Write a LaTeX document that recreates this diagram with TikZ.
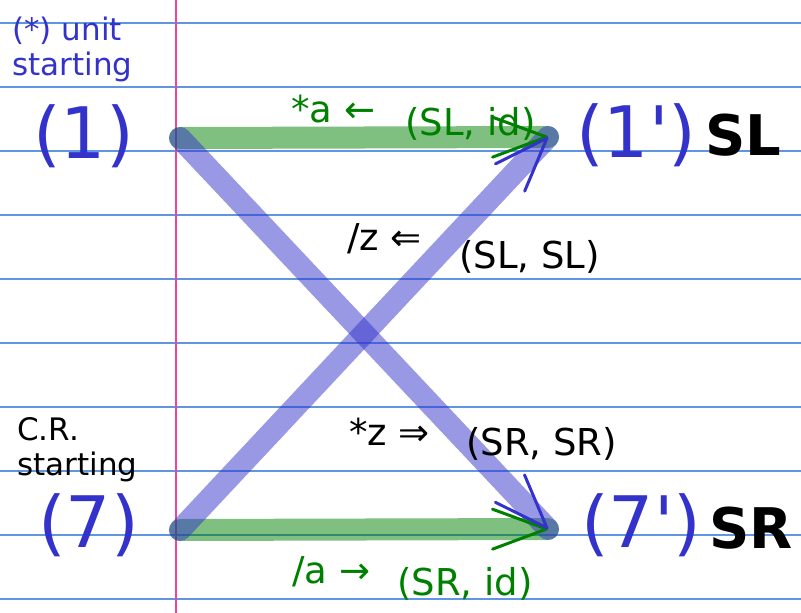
\documentclass[tikz,border=0pt]{standalone}
\usepackage{fontspec}
\setmainfont{DejaVu Sans}[Ligatures=TeXOff]
\usetikzlibrary{arrows.meta,calc}
\definecolor{ruleblue}{RGB}{95,150,225}
\definecolor{marginpink}{RGB}{235,70,160}
\definecolor{dgreen}{RGB}{0,128,0}
\definecolor{nblue}{RGB}{51,51,204}
\begin{document}
\begin{tikzpicture}[x=1pt,y=-1pt,
  bignum/.style={text=nblue, font=\fontsize{71}{76}\selectfont, anchor=base west, inner sep=0pt},
  sidelab/.style={font=\fontsize{56}{60}\selectfont\bfseries, anchor=base west, inner sep=0pt},
  note/.style={font=\fontsize{31}{35}\selectfont, anchor=base west, inner sep=0pt},
  oplab/.style={font=\fontsize{37}{40}\selectfont, anchor=base west, inner sep=0pt},
  pairlab/.style={font=\fontsize{37}{40}\selectfont, anchor=base west, inner sep=0pt},
  band/.style={line width=22pt, line cap=round, draw opacity=0.5},
  gband/.style={band, draw=dgreen},
  bband/.style={band, draw=nblue},
  barb/.style={line width=3pt, -{Straight Barb[length=54pt,width=40pt,round]}},
  rule/.style={draw=ruleblue, line width=1.3pt}]
\useasboundingbox (0,0) rectangle (801,613);
\fill[white] (0,0) rectangle (801,613);
% ruled paper
\foreach \yy in {23,87,151,215,279,343,407,471,535,599}
  \draw[rule] (0,\yy) -- (801,\yy);
\draw[draw=marginpink, line width=1.8pt] (176,0) -- (176,613);
% end points
\coordinate (p1) at (180,138);
\coordinate (p1p) at (548,137);
\coordinate (p7) at (180,530);
\coordinate (p7p) at (548,529);
% bands
\draw[gband] (p1) -- (p1p);
\draw[gband] (p7) -- (p7p);
\draw[bband] (p1) -- (p7p);
\draw[bband] (p7) -- (p1p);
% arrowheads
\draw[barb, draw=dgreen] ($(p1)!0.99!(p1p)$) -- (p1p);
\draw[barb, draw=nblue] ($(p7)!0.99!(p1p)$) -- (p1p);
\draw[barb, draw=dgreen] ($(p7)!0.99!(p7p)$) -- (p7p);
\draw[barb, draw=nblue] ($(p1)!0.99!(p7p)$) -- (p7p);
% state nodes
\node[bignum] (n1) at (33,158) {(1)};
\node[bignum] (n1p) at (576,157) {(1')};
\node[bignum] (n7) at (38,547) {(7)};
\node[bignum] (n7p) at (581,547) {(7')};
\node[sidelab] (sl) at (705,155) {SL};
\node[sidelab] (sr) at (709,548) {SR};
% notes
\node[note, text=nblue] (u1) at (12,40) {(*) unit};
\node[note, text=nblue] (u2) at (12,75) {starting};
\node[note] (c1) at (17,440) {C.R.};
\node[note] (c2) at (17,475) {starting};
% edge labels
\node[oplab, text=dgreen] (la) at (291,122) {*a ←};
\node[pairlab, text=dgreen] (lb) at (405,135) {(SL, id)};
\node[oplab] (lc) at (347,250) {/z ⇐};
\node[pairlab] (ld) at (459,268) {(SL, SL)};
\node[oplab] (le) at (349,445) {*z ⇒};
\node[pairlab] (lf) at (466,455) {(SR, SR)};
\node[oplab, text=dgreen] (lg) at (292,583) {/a →};
\node[pairlab, text=dgreen] (lh) at (397,595) {(SR, id)};
\end{tikzpicture}
\end{document}
